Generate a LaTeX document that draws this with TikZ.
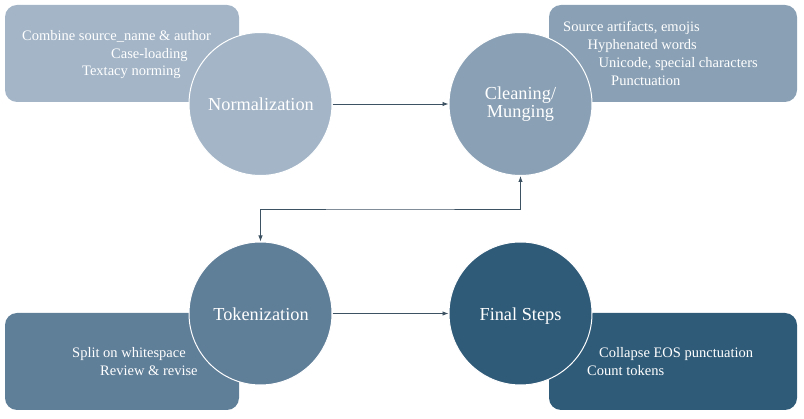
\documentclass[tikz,border=0pt]{standalone}
\usepackage{fontspec}
\setmainfont{LiberationSerif}[Extension=.ttf, UprightFont=*-Regular, BoldFont=*-Bold]
\usetikzlibrary{arrows.meta}
\definecolor{cA}{HTML}{A3B5C7}
\definecolor{cB}{HTML}{8AA1B5}
\definecolor{cC}{HTML}{5F7E98}
\definecolor{cD}{HTML}{305B78}
\definecolor{lineC}{HTML}{3D5262}
\tikzset{
  infobox/.style={rectangle, rounded corners=12pt, inner sep=0pt},
  stage/.style={circle, draw=white, line width=1pt, minimum size=143pt, inner sep=0pt},
  stagetext/.style={anchor=base, inner sep=0pt, text=white, font=\rmfamily\fontsize{18.3}{21}\selectfont},
  boxtext/.style={anchor=base west, inner sep=0pt, text=white, font=\rmfamily\fontsize{14.5}{17}\selectfont},
  conn/.style={draw=lineC, line width=0.9pt, -{Latex[length=6pt,width=4.5pt]}},
  conn2/.style={draw=lineC, line width=0.9pt, {Latex[length=6pt,width=4.5pt]}-{Latex[length=6pt,width=4.5pt]}}
}
\begin{document}
\begin{tikzpicture}[x=1pt,y=-1pt]
\useasboundingbox (0,0) rectangle (804,419);
% boxes
\node[infobox, fill=cA, minimum width=234pt, minimum height=97pt] (b1) at (122,53.5) {};
\node[infobox, fill=cB, minimum width=248pt, minimum height=97pt] (b2) at (673,53.5) {};
\node[infobox, fill=cC, minimum width=234pt, minimum height=97pt] (b3) at (122,361.5) {};
\node[infobox, fill=cD, minimum width=248pt, minimum height=97pt] (b4) at (673,361.5) {};
% box texts
\node[boxtext] (t11) at (22,41) {Combine source\_name \& author};
\node[boxtext] (t12) at (111,58.5) {Case-loading};
\node[boxtext] (t13) at (82,76) {Textacy norming};
\node[boxtext] (t21) at (563,31.5) {Source artifacts, emojis};
\node[boxtext] (t22) at (587.5,49.5) {Hyphenated words};
\node[boxtext] (t23) at (598.5,67.5) {Unicode, special characters};
\node[boxtext] (t24) at (611,85.5) {Punctuation};
\node[boxtext] (t31) at (72,358) {Split on whitespace};
\node[boxtext] (t32) at (100,376) {Review \& revise};
\node[boxtext] (t41) at (599,358) {Collapse EOS punctuation};
\node[boxtext] (t42) at (587,376) {Count tokens};
% circles
\node[stage, fill=cA] (norm) at (260.5,104) {};
\node[stage, fill=cB] (clean) at (520.5,104) {};
\node[stage, fill=cC] (tok) at (260.5,313.5) {};
\node[stage, fill=cD] (fin) at (520.5,313.5) {};
% circle labels
\node[stagetext] (l1) at (261,111) {Normalization};
\node[stagetext] (l2a) at (520.5,100) {Cleaning/};
\node[stagetext] (l2b) at (520.5,117.5) {Munging};
\node[stagetext] (l3) at (261,321) {Tokenization};
\node[stagetext] (l4) at (520.5,321) {Final Steps};
% connectors
\draw[conn] (norm) -- (clean);
\draw[conn] (tok) -- (fin);
\coordinate (mid) at (390,209);
\draw[conn2] (tok.north) |- (mid) -| (clean.south);
\end{tikzpicture}
\end{document}
